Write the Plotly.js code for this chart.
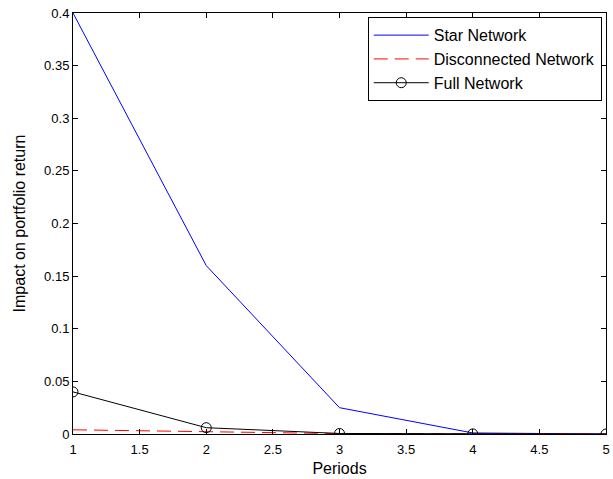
<!DOCTYPE html>
<html><head><meta charset="utf-8">
<script src="https://cdn.plot.ly/plotly-3.0.1.min.js"></script>
<style>body{margin:0;background:#fff}#c{width:613px;height:479px}</style>
</head><body><div id="c"></div>
<script>
var periods = [1, 2, 3, 4, 5];
var starNetwork = [0.4, 0.16, 0.025, 0.001, 0.0];
var disconnectedNetwork = [0.004, 0.002, 0.0004, 0.0001, 0.0];
var fullNetwork = [0.04, 0.006, 0.0005, 0.0001, 0.0];
var xTicks = [1, 1.5, 2, 2.5, 3, 3.5, 4, 4.5, 5];
var xTickText = ['1', '1.5', '2', '2.5', '3', '3.5', '4', '4.5', '5'];
var yTicks = [0, 0.05, 0.1, 0.15, 0.2, 0.25, 0.3, 0.35, 0.4];
var yTickText = ['0', '0.05', '0.1', '0.15', '0.2', '0.25', '0.3', '0.35', '0.4'];

var traces = [
  {x: periods, y: starNetwork, name: 'Star Network', mode: 'lines',
   line: {color: '#0000ff', width: 1}},
  {x: periods, y: disconnectedNetwork, name: 'Disconnected Network', mode: 'lines',
   line: {color: '#ff0000', width: 1, dash: '14px,7px'}},
  {x: periods, y: fullNetwork, name: 'Full Network', mode: 'lines+markers',
   line: {color: '#000000', width: 1},
   marker: {symbol: 'circle-open', size: 10, color: '#000000', line: {width: 1, color: '#000000'}}}
];
var ff = 'Liberation Sans, Arial, sans-serif';
var axFont = {family: ff, size: 13, color: '#000'};
var titleFont = {family: ff, size: 16, color: '#000'};
var layout = {
  width: 613, height: 479,
  margin: {l: 73, r: 7, t: 13, b: 45},
  paper_bgcolor: '#fff', plot_bgcolor: '#fff',
  font: axFont,
  showlegend: true,
  legend: {x: 0.553, y: 0.99, xanchor: 'left', yanchor: 'top',
    bordercolor: '#000', borderwidth: 1, bgcolor: '#fff',
    font: {family: ff, size: 16, color: '#000'},
    itemwidth: 55, tracegroupgap: 0},
  xaxis: {range: [1, 5], tickmode: 'array', tickvals: xTicks, ticktext: xTickText,
    ticks: 'inside', ticklen: 5, tickcolor: '#000', showgrid: false, zeroline: false,
    showline: true, linecolor: '#000', linewidth: 1, mirror: 'ticks',
    tickfont: axFont, ticklabelstandoff: 3,
    title: {text: 'Periods', font: titleFont, standoff: 7}},
  yaxis: {range: [0, 0.4], tickmode: 'array', tickvals: yTicks, ticktext: yTickText,
    ticks: 'inside', ticklen: 5, tickcolor: '#000', showgrid: false, zeroline: false,
    showline: true, linecolor: '#000', linewidth: 1, mirror: 'ticks',
    tickfont: axFont,
    title: {text: 'Impact on portfolio return', font: titleFont, standoff: 14}}
};
Plotly.newPlot('c', traces, layout, {displayModeBar: false});
</script></body></html>
